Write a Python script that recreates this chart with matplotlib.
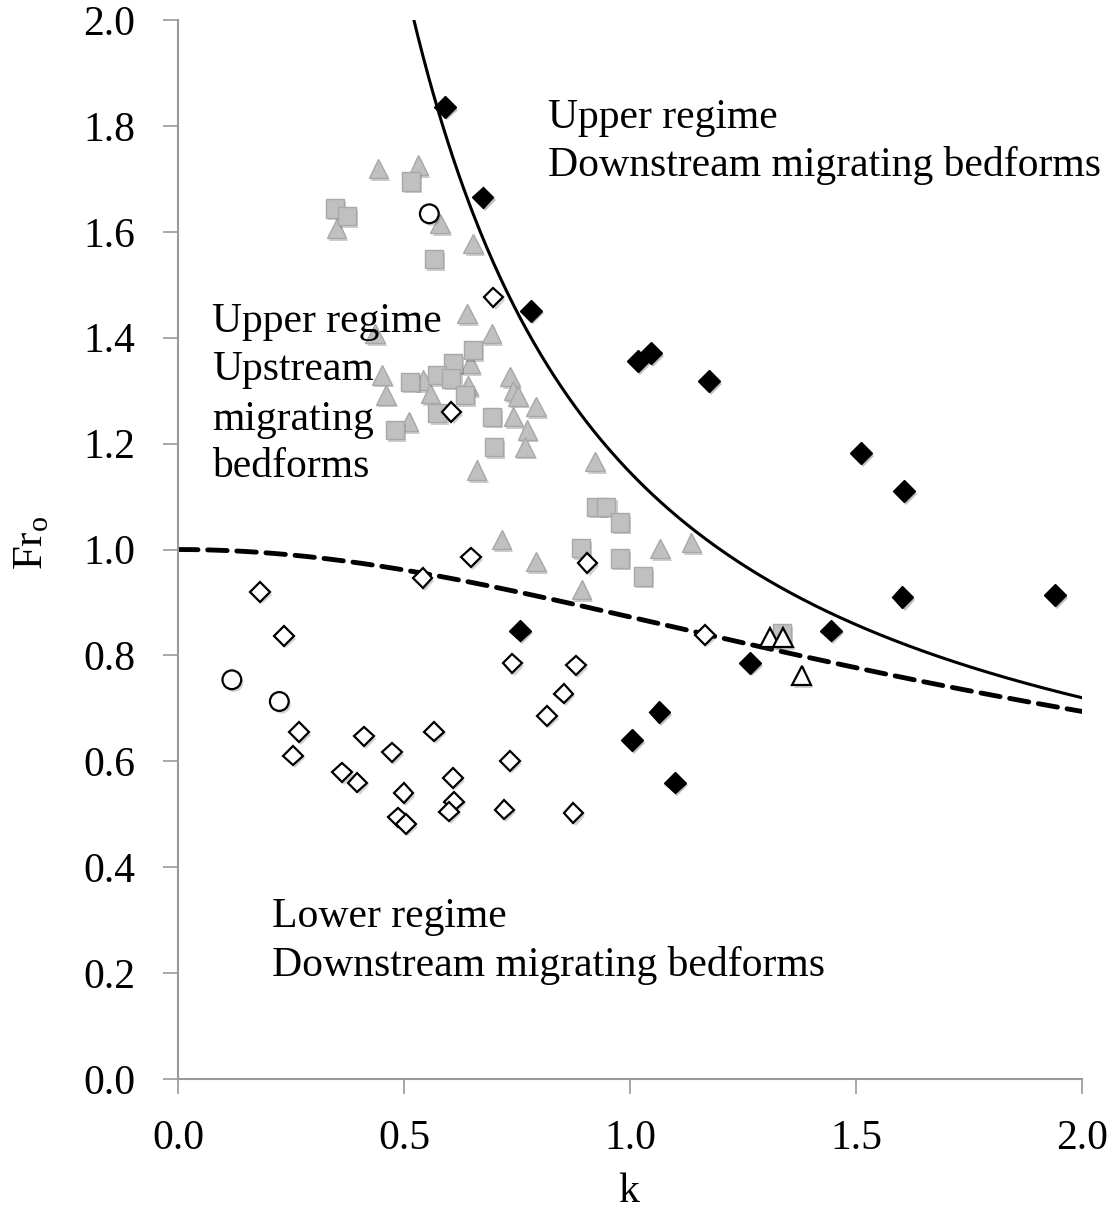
import numpy as np
import matplotlib.pyplot as plt
import matplotlib.patheffects as pe

plt.rcParams['font.family'] = ['Liberation Serif', 'DejaVu Serif']

# black filled diamonds
k_black = [0.591, 0.674, 0.781, 1.018, 1.046, 1.175, 1.511, 1.606, 1.603, 1.940,
           1.445, 1.265, 0.757, 1.065, 1.005, 1.100]
fr_black = [1.836, 1.665, 1.451, 1.356, 1.371, 1.318, 1.182, 1.110, 0.910, 0.914,
            0.847, 0.786, 0.847, 0.693, 0.640, 0.560]

# open diamonds
k_open = [0.698, 0.605, 0.181, 0.235, 0.541, 0.648, 0.906, 0.268, 0.255, 0.412,
          0.473, 0.567, 0.363, 0.397, 0.499, 0.608, 0.611, 0.600, 0.487, 0.504,
          0.722, 0.875, 0.735, 0.816, 0.853, 0.740, 0.880, 1.166]
fr_open = [1.476, 1.260, 0.920, 0.837, 0.946, 0.985, 0.974, 0.655, 0.611, 0.647,
           0.617, 0.656, 0.579, 0.560, 0.540, 0.569, 0.524, 0.505, 0.494, 0.482,
           0.509, 0.502, 0.601, 0.686, 0.728, 0.785, 0.781, 0.839]

# open circles
k_circ = [0.556, 0.119, 0.224]
fr_circ = [1.634, 0.754, 0.713]

# open triangles
k_otri = [1.310, 1.339, 1.380]
fr_otri = [0.834, 0.834, 0.762]

# gray triangles
k_gtri = [0.443, 0.532, 0.580, 0.653, 0.639, 0.694, 0.351, 0.436, 0.647, 0.543,
          0.451, 0.460, 0.558, 0.642, 0.510, 0.735, 0.742, 0.752, 0.792, 0.742,
          0.773, 0.768, 0.661, 0.923, 0.716, 0.792, 0.893, 1.066, 1.136]
fr_gtri = [1.720, 1.726, 1.616, 1.578, 1.446, 1.408, 1.607, 1.408, 1.352, 1.320,
           1.330, 1.292, 1.295, 1.310, 1.242, 1.327, 1.300, 1.290, 1.270, 1.251,
           1.226, 1.194, 1.150, 1.166, 1.019, 0.977, 0.924, 1.002, 1.013]

# gray squares
k_gsq = [0.515, 0.347, 0.373, 0.566, 0.652, 0.609, 0.574, 0.605, 0.513, 0.635,
         0.574, 0.480, 0.694, 0.699, 0.926, 0.948, 0.978, 0.891, 0.978, 1.028, 1.336]
fr_gsq = [1.695, 1.644, 1.629, 1.548, 1.377, 1.352, 1.330, 1.323, 1.317, 1.292,
          1.257, 1.226, 1.251, 1.194, 1.081, 1.081, 1.051, 1.002, 0.983, 0.949, 0.842]

# regime boundaries
k = np.linspace(0.001, 2.0, 400)
fr_lower = np.sqrt(np.tanh(k) / k)
k2 = np.linspace(0.52, 2.0, 400)
fr_upper = np.sqrt(1.0 / (k2 * np.tanh(k2)))

fig = plt.figure(figsize=(11.13, 12.12), dpi=100)
ax = fig.add_axes([0.16, 0.1097, 0.812, 0.8738])

shadow = [pe.SimplePatchShadow(offset=(1.5, -2), alpha=0.25), pe.Normal()]

ax.plot(k_gtri, fr_gtri, '^', ms=14, mfc='#c0c0c0', mec='#a8a8a8', mew=1, path_effects=shadow, zorder=3)
ax.plot(k_gsq, fr_gsq, 's', ms=13, mfc='#c0c0c0', mec='#a8a8a8', mew=1, path_effects=shadow, zorder=3)
ax.plot(k_open, fr_open, 'D', ms=10, mfc='white', mec='black', mew=1.6, path_effects=shadow, zorder=4)
ax.plot(k_circ, fr_circ, 'o', ms=13.5, mfc='white', mec='black', mew=1.6, path_effects=shadow, zorder=4)
ax.plot(k_otri, fr_otri, '^', ms=14, mfc='white', mec='black', mew=1.6, path_effects=shadow, zorder=4)
ax.plot(k_black, fr_black, 'D', ms=11, mfc='black', mec='black', mew=1, path_effects=shadow, zorder=5)

ax.plot(k2, fr_upper, color='black', lw=2.2, zorder=2)
ax.plot(k, fr_lower, color='black', lw=3.5, linestyle=(0, (4, 2)), dash_capstyle='round', zorder=2)

fs = 30
ax.text(0.819, 1.815, "Upper regime", fontsize=fs, va='center', zorder=6)
ax.text(0.819, 1.726, "Downstream migrating bedforms", fontsize=fs, va='center', zorder=6)
ax.text(0.075, 1.430, "Upper regime", fontsize=fs, va='center', zorder=6)
ax.text(0.075, 1.339, "Upstream", fontsize=fs, va='center', zorder=6)
ax.text(0.075, 1.245, "migrating", fontsize=fs, va='center', zorder=6)
ax.text(0.075, 1.156, "bedforms", fontsize=fs, va='center', zorder=6)
ax.text(0.208, 0.306, "Lower regime", fontsize=fs, va='center', zorder=6)
ax.text(0.208, 0.215, "Downstream migrating bedforms", fontsize=fs, va='center', zorder=6)

ax.set_xlim(0, 2.0)
ax.set_ylim(0, 2.0)
ax.set_xticks(np.arange(0, 2.01, 0.5))
ax.set_yticks(np.arange(0, 2.01, 0.2))
ax.set_xticklabels(["%.1f" % v for v in np.arange(0, 2.01, 0.5)])
ax.set_yticklabels(["%.1f" % v for v in np.arange(0, 2.01, 0.2)])
ax.tick_params(labelsize=30, color='#999999', length=11, width=1.2)
ax.tick_params(axis='x', pad=18)
ax.tick_params(axis='y', pad=20)
for s in ['top', 'right']:
    ax.spines[s].set_visible(False)
for s in ['left', 'bottom']:
    ax.spines[s].set_color('#999999')
    ax.spines[s].set_linewidth(1.5)

ax.set_xlabel("k", fontsize=30, va='center')
ax.set_ylabel("Fr$_\\mathregular{o}$", fontsize=31, va='center')
ax.xaxis.set_label_coords(0.498, -0.1067)
ax.yaxis.set_label_coords(-0.1615, 0.506)

plt.savefig("out.png", dpi=100)
